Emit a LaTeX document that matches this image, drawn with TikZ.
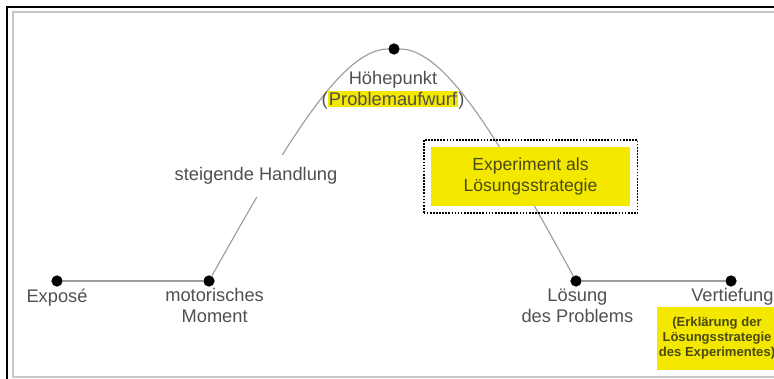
\documentclass[tikz,border=0pt]{standalone}
\usepackage{fontspec}
\setmainfont{Liberation Sans}
\usetikzlibrary{positioning}
\usetikzlibrary{fit}
\definecolor{labelgrey}{HTML}{505050}
\definecolor{linegrey}{HTML}{9C9C9C}
\definecolor{framegrey}{HTML}{C8C8C8}
\definecolor{signal}{HTML}{F4E800}
\definecolor{boxtext}{HTML}{4A4A10}
\newcommand{\hilite}[1]{{\setlength{\fboxsep}{1pt}\colorbox{signal}{#1}}}

\begin{document}
\begin{tikzpicture}[
  x=0.025cm, y=-0.025cm,
  stage/.style={circle, fill=black, inner sep=0pt, minimum size=8pt},
  stagetext/.style={font=\fontsize{13}{15}\selectfont, text=labelgrey,
    align=center, inner sep=1pt},
  plot/.style={draw=linegrey, line width=0.8pt},
  strategy/.style={rectangle, fill=signal, text=boxtext, align=center,
    minimum width=4.975cm, minimum height=1.475cm,
    font=\fontsize{12.5}{15}\selectfont},
  note/.style={rectangle, fill=signal, text=boxtext, align=center,
    minimum width=2.9cm, minimum height=1.575cm, inner sep=1pt,
    font=\fontsize{9.3}{10.6}\selectfont\bfseries},
  dotframe/.style={draw=black, line width=1.2pt, densely dotted, inner sep=5pt},
]
\useasboundingbox (0,0) rectangle (774,379);

% === Window frame ===
\draw[framegrey, line width=1.5pt] (13,12) rectangle (790,377);
\draw[black, line width=1.5pt] (7,385) -- (7,7) -- (780,7);

% === Stages ===
\node[stage] (expose) at (57,281) {};
\node[stage] (moment) at (209,281) {};
\node[stage] (peak) at (394,49) {};
\node[stage] (loesung) at (576,281) {};
\node[stage] (vertiefung) at (731,281) {};

\draw[plot] (expose) -- (moment);
\draw[plot] (moment) .. controls (287,142) and (342,49) .. (peak)
  .. controls (446,49) and (500,142) .. (loesung);
\draw[plot] (loesung) -- (vertiefung);

% === Labels ===
\node[stagetext, below=0pt of expose] (exposetext) {Exposé};
\node[stagetext, below=0pt of moment, xshift=4pt] (momenttext) {motorisches\\Moment};
\node[stagetext] (peaktext) at (393,90) {Höhepunkt\\(\hilite{Problemaufwurf})};
\node[stagetext, fill=white, inner ysep=9pt] (rising) at (256,176) {steigende Handlung};
\node[stagetext, below=0pt of loesung, xshift=1pt] (loesungtext) {Lösung\\des Problems};
\node[stagetext, below=0pt of vertiefung, xshift=1pt] (vertiefungtext) {Vertiefung};

% === Boxes ===
\node[strategy] (experiment) at (530.5,176.5) {Experiment als\\Lösungsstrategie};
\node[dotframe, fit=(experiment)] (experimentframe) {};
\node[note] (explain) at (717,338.5) {(Erklärung der\\Lösungsstrategie\\des Experimentes)};
\end{tikzpicture}
\end{document}
